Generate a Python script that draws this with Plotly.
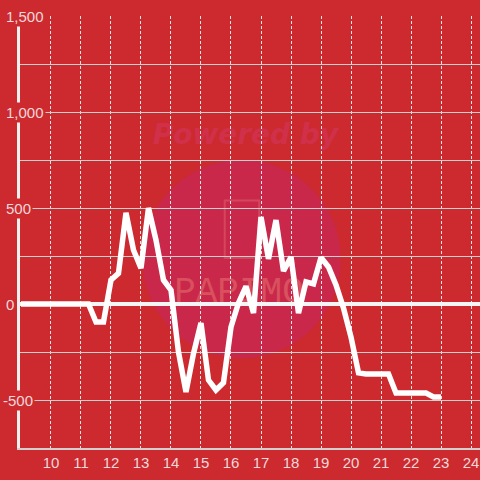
import plotly.graph_objects as go

# ---- data ----
hours = [9.0, 9.25, 9.5, 9.75, 10.0, 10.25, 10.5, 10.75, 11.0, 11.25,
         11.5, 11.75, 12.0, 12.25, 12.5, 12.75, 13.0, 13.25, 13.5, 13.75,
         14.0, 14.25, 14.5, 14.75, 15.0, 15.25, 15.5, 15.75, 16.0, 16.25,
         16.5, 16.75, 17.0, 17.25, 17.5, 17.75, 18.0, 18.25, 18.5, 18.75,
         19.0, 19.25, 19.5, 19.75, 20.0, 20.25, 20.5, 20.75, 21.0, 21.25,
         21.5, 21.75, 22.0, 22.25, 22.5, 22.75, 23.0]
values = [0, 0, 0, 0, 0, 0, 0, 0, 0, 0,
          -94, -94, 125, 160, 475, 281, 187, 500, 333, 125,
          73, -250, -458, -258, -99, -396, -448, -410, -120, 5,
          92, -47, 453, 235, 437, 172, 245, -47, 115, 105,
          242, 193, 99, -21, -172, -359, -365, -365, -365, -365,
          -464, -464, -464, -464, -464, -484, -484]

x_ticks = [10, 11, 12, 13, 14, 15, 16, 17, 18, 19, 20, 21, 22, 23, 24]
y_label_vals = [1500, 1000, 500, 0, -500]
y_label_text = ["1,500", "1,000", "500", "0", "-500"]

BG = "#CC2A2F"
LABEL = "#F3D7D9"

fig = go.Figure()
fig.add_trace(go.Scatter(x=hours, y=values, mode="lines",
                         line=dict(color="#FFFFFF", width=5.5),
                         hoverinfo="skip", showlegend=False))

# watermark (decoration)
fig.add_shape(type="circle", xref="paper", yref="paper", layer="below",
              x0=0.266, x1=0.697, y0=0.208, y1=0.667,
              fillcolor="#C9284A", line=dict(width=0))
fig.add_shape(type="rect", xref="paper", yref="paper", layer="below",
              x0=0.14, x1=0.84, y0=0.69, y1=0.77,
              line=dict(width=0), fillcolor="rgba(0,0,0,0)",
              label=dict(text="Powered by",
                         font=dict(family="DejaVu Sans", size=28,
                                   color="#D0304A", weight="bold", style="italic")))
fig.add_shape(type="rect", xref="paper", yref="paper", layer="below",
              x0=0.445, x1=0.52, y0=0.44, y1=0.573,
              line=dict(width=2, color="#D5465C"), fillcolor="rgba(0,0,0,0)")
fig.add_shape(type="rect", xref="paper", yref="paper", layer="below",
              x0=0.286, x1=0.666, y0=0.325, y1=0.425,
              line=dict(width=0), fillcolor="rgba(0,0,0,0)",
              label=dict(text="PAPIMO",
                         font=dict(family="Liberation Mono", size=36,
                                   color="#D9505E")))

# y tick labels with background boxes
for v, t in zip(y_label_vals, y_label_text):
    fig.add_annotation(x=0, xref="paper", y=v, yref="y", text=t,
                       showarrow=False, xanchor="left", yanchor="middle",
                       xshift=-16 if v >= 0 else -19,
                       font=dict(family="Liberation Sans", size=15, color=LABEL),
                       bgcolor=BG, borderpad=1)

fig.update_layout(
    width=480, height=480,
    margin=dict(l=20, r=0, t=16, b=32),
    paper_bgcolor=BG, plot_bgcolor=BG,
    showlegend=False,
    xaxis=dict(range=[8.967, 24.3], tickmode="array", tickvals=x_ticks,
               ticktext=[str(t) for t in x_ticks],
               showgrid=True, gridcolor="#E6E6E6", gridwidth=1, griddash="3px,2px",
               zeroline=False, showline=True, linecolor="#D0D0D0", linewidth=1.5,
               ticks="", tickfont=dict(family="Liberation Sans", size=15, color=LABEL)),
    yaxis=dict(range=[-750, 1500], dtick=250, tick0=0, showticklabels=False,
               showgrid=True, gridcolor="#D0D0D0", gridwidth=1,
               zeroline=True, zerolinecolor="#F5F5F5", zerolinewidth=4,
               showline=True, linecolor="#F0F0F0", linewidth=3, ticks=""),
)

fig.write_html("out.html", config={"displayModeBar": False},
               post_script="document.body.style.margin='0';document.body.style.background='" + BG + "';")
